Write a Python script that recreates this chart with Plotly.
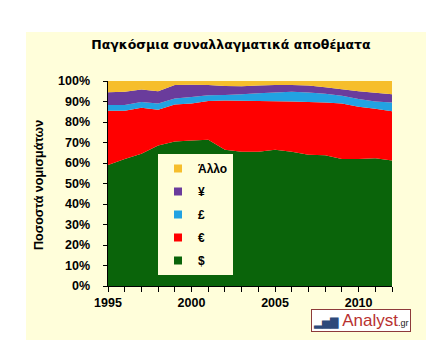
import plotly.graph_objects as go

years = list(range(1995, 2013))
usd = [59, 62, 64.5, 68.5, 70.5, 71, 71.3, 66.5, 65.5, 65.5, 66.5, 65.5, 64, 63.8, 62, 62, 62.3, 61.2]
eur = [26.5, 23.5, 22.5, 17.5, 18, 18, 19, 24, 24.9, 24.8, 23.6, 24.5, 25.8, 25.7, 27, 25.5, 24.2, 24.1]
gbp = [2.8, 2.8, 2.8, 3, 3, 3.2, 2.7, 2.7, 3.1, 3.7, 4.3, 4.7, 4.6, 4.3, 3.8, 3.7, 3.5, 4.2]
jpy = [6.2, 6.5, 6, 6, 6.5, 6, 5, 4.4, 4, 3.8, 3.6, 3.3, 3.4, 3.2, 3.2, 3.8, 4.3, 4]
other = [round(100 - a - b - c - d, 2) for a, b, c, d in zip(usd, eur, gbp, jpy)]

names = ["$", "€", "£", "¥", "Άλλο"]
series = [usd, eur, gbp, jpy, other]
colors = ["#0A640A", "#FF0000", "#22A2E2", "#6A3C9C", "#F6BE2C"]

title = "Παγκόσμια συναλλαγματικά αποθέματα"
ytitle = "Ποσοστά νομισμάτων"
ytickvals = list(range(0, 101, 10))
yticktext = [f"{v}%" for v in ytickvals]
xtickvals = [1995, 2000, 2005, 2010]

cream = "#FFFEDA"
font = "Liberation Sans"

fig = go.Figure()
for n, s, c in zip(names, series, colors):
    fig.add_trace(go.Scatter(x=years, y=s, stackgroup="one", mode="none",
                             fillcolor=c, name=n, showlegend=False, hoverinfo="skip"))
# legend entries, top to bottom
for n, c in reversed(list(zip(names, colors))):
    fig.add_trace(go.Scatter(x=[None], y=[None], mode="markers", name=f"<b>{n}</b>",
                             marker=dict(symbol="square", size=8, color=c),
                             legendgroup=n, showlegend=True))

W, H = 438, 359
l, r, t, b = 100, 54, 73, 81
pw, ph = W - l - r, H - t - b

def px(x):
    return (x - l) / pw

def py(y):
    return (H - b - y) / ph

fig.add_shape(type="rect", xref="paper", yref="paper", layer="below",
              x0=px(18), x1=px(418), y0=py(332), y1=py(24),
              fillcolor=cream, line=dict(width=0))

fig.update_layout(
    width=W, height=H,
    margin=dict(l=l, r=r, t=t, b=b),
    paper_bgcolor="white", plot_bgcolor=cream,
    font=dict(family=font, size=12, color="black"),
    title=dict(text=f"<b>{title}</b>", x=px(223), xref="paper", xanchor="center",
               y=1 - 37 / H, yanchor="middle", font=dict(size=12.5, family="DejaVu Sans")),
    xaxis=dict(range=[1995, 2012], tickvals=xtickvals,
               ticktext=[f"<b>{v}</b>" for v in xtickvals],
               ticks="outside", ticklen=5,
               tickcolor="black", showline=True, linecolor="black", linewidth=1,
               showgrid=False, zeroline=False,
               tickfont=dict(size=12.5, family=font),
               minor=dict(dtick=1, ticks="outside", ticklen=5, tickcolor="black", showgrid=False)),
    yaxis=dict(range=[0, 100], tickvals=ytickvals,
               ticktext=[f"<b>{t_}</b>\u00a0\u00a0\u00a0" for t_ in yticktext],
               ticks="outside", ticklen=4, tickcolor="black", showline=True, linecolor="black",
               linewidth=1, showgrid=False, zeroline=False, tickfont=dict(size=12.5, family=font)),
    legend=dict(x=px(150), y=py(146), xanchor="left", yanchor="top",
                bgcolor=cream, borderwidth=0, traceorder="grouped",
                tracegroupgap=4, font=dict(size=12, family=font),
                itemwidth=30, entrywidth=20),
    showlegend=True,
)

fig.add_annotation(text=f"<b>{ytitle}</b>", textangle=-90, xref="paper", yref="paper",
                   x=px(31), y=py(177), showarrow=False, font=dict(size=12.5, family=font),
                   xanchor="center", yanchor="middle")

fig.add_annotation(text="<span style='color:#2E4A7A;font-size:11px'>▂▅▇</span> "
                        "<span style='color:#B8312F;font-size:17px'>Analyst</span>"
                        "<span style='font-size:9px;color:#222'>.gr</span>",
                   xref="paper", yref="paper", x=px(403), y=py(312), xanchor="right",
                   yanchor="middle", showarrow=False, bgcolor="white",
                   bordercolor="#8E3B3B", borderwidth=1, borderpad=1,
                   font=dict(family="Liberation Sans Narrow, Liberation Sans", size=17),
                   width=96, height=19, align="center")

fig.write_html("out.html")
